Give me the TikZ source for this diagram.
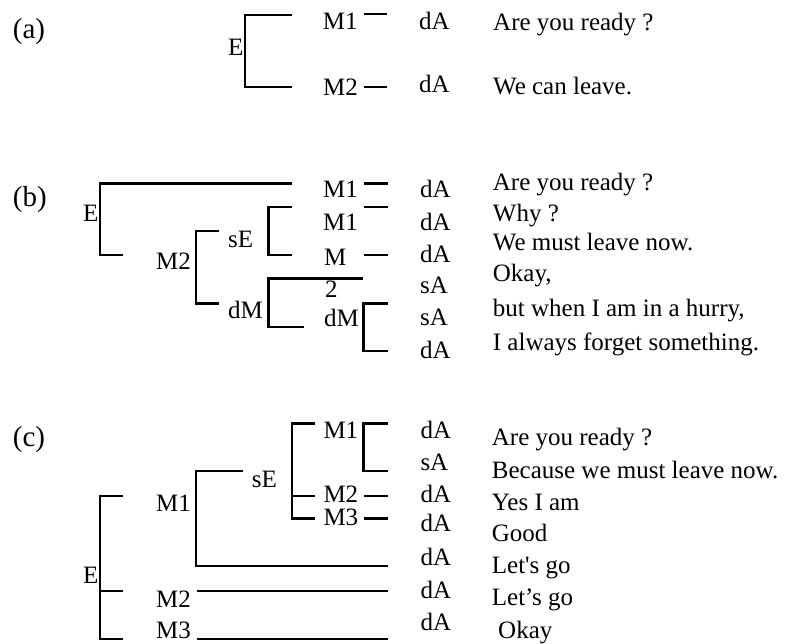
\documentclass[tikz,border=0pt]{standalone}
\usepackage{fontspec}
\setmainfont{Liberation Serif}
\tikzset{
  tag/.style={font=\fontsize{29}{34}\selectfont, inner sep=0pt, anchor=base west},
  lbl/.style={font=\fontsize{25}{30}\selectfont, inner sep=0pt, anchor=base west},
  brk/.style={line width=2.4pt},
}

\begin{document}
\begin{tikzpicture}[x=1pt, y=-1pt]
\useasboundingbox (0,0) rectangle (799,643);

%--- (a) ---
\node[tag] (tagA) at (12.7,38) {(a)};
\node[lbl] (eA) at (228,55) {E};
\node[lbl] (m1A) at (322.7,29) {M1};
\node[lbl] (m2A) at (323,95) {M2};
\node[lbl] (daA1) at (419,29) {dA};
\node[lbl] (daA2) at (419,92) {dA};
\node[lbl] (sA1) at (493,30) {Are you ready ?};
\node[lbl] (sA2) at (493,94) {We can leave.};
% bracket
\draw[brk] (292,15) -- (245,15) -- (245,87) -- (292,87);
\foreach \y in {14,87}{
  \draw[brk] (364,\y) -- (387,\y);
}

%--- (b) ---
\node[tag] (tagB) at (12.7,206) {(b)};
\node[lbl] (eB) at (83,221.7) {E};
\node[lbl] (m2B) at (156,269) {M2};
\node[lbl] (seB) at (228,247.3) {sE};
\node[lbl] (dmB) at (228,318.5) {dM};
\node[lbl] (m1Ba) at (323,197) {M1};
\node[lbl] (m1Bb) at (323,230) {M1};
\node[lbl] (mB) at (324,265) {M};
\node[lbl] (twoB) at (325,297) {2};
\node[lbl] (dmBb) at (324,326) {dM};
% actes
\foreach \y/\t [count=\i] in {197/dA,230/dA,262/dA,293/sA,325/sA,358/dA}{
  \node[lbl] (actB\i) at (420,\y) {\t};
}
\node[lbl] (sB1) at (492.7,190) {Are you ready ?};
\node[lbl] (sB2) at (492.7,221.5) {Why ?};
\node[lbl] (sB3) at (492.7,250.5) {We must leave now.};
\node[lbl] (sB4) at (492.7,281) {Okay,};
\node[lbl] (sB5) at (492.7,316.5) {but when I am in a hurry,};
\node[lbl] (sB6) at (492.7,350) {I always forget something.};
% brackets
\draw[brk] (292,183.3) -- (100,183.3) -- (100,255) -- (123.3,255);
\draw[brk] (219,231) -- (196,231) -- (196,303.3) -- (219,303.3);
\draw[brk] (292,206.7) -- (268.3,206.7) -- (268.3,255) -- (292,255);
\draw[brk] (363.3,278.3) -- (268.3,278.3) -- (268.3,326.7) -- (304,326.7);
\draw[brk] (388,303.3) -- (363.3,303.3) -- (363.3,350.7) -- (388,350.7);
\foreach \y in {183.3,206.7,255}{
  \draw[brk] (364,\y) -- (388,\y);
}

%--- (c) ---
\node[tag] (tagC) at (12.7,446.5) {(c)};
\node[lbl] (eC) at (83,583) {E};
\node[lbl] (m1C) at (156,511.5) {M1};
\node[lbl] (m2C) at (156,607) {M2};
\node[lbl] (m3C) at (156,638) {M3};
\node[lbl] (seC) at (251.7,487.3) {sE};
\node[lbl] (m1Ci) at (323.3,438.5) {M1};
\node[lbl] (m2Ci) at (323.3,502) {M2};
\node[lbl] (m3Ci) at (323.3,525) {M3};
% actes
\foreach \y/\t [count=\i] in {438/dA,470/sA,502/dA,531/dA,565/dA,598/dA,630/dA}{
  \node[lbl] (actC\i) at (420.3,\y) {\t};
}
\node[lbl] (sC1) at (491.7,445) {Are you ready ?};
\node[lbl] (sC2) at (491.7,478) {Because we must leave now.};
\node[lbl] (sC3) at (491.7,510) {Yes I am};
\node[lbl] (sC4) at (491.7,541.5) {Good};
\node[lbl] (sC5) at (491.7,573) {Let\textquotesingle s go};
\node[lbl] (sC6) at (491.7,605) {Let’s go};
\node[lbl] (sC7) at (498,638) {Okay};
% brackets
\draw[brk] (123.3,495.7) -- (100,495.7) -- (100,639) -- (123.3,639);
\draw[brk] (100,591) -- (123.3,591);
\draw[brk] (242.7,471) -- (196,471) -- (196,566) -- (387.7,566);
\draw[brk] (196.7,591) -- (387.7,591);
\draw[brk] (196.7,639) -- (387.7,639);
\draw[brk] (315,423.3) -- (291.7,423.3) -- (291.7,518.3) -- (315,518.3);
\draw[brk] (291.7,495.7) -- (315,495.7);
\draw[brk] (388,423.3) -- (363.3,423.3) -- (363.3,471) -- (388,471);
\foreach \y in {495.7,518.3}{
  \draw[brk] (364,\y) -- (388,\y);
}
\end{tikzpicture}
\end{document}
